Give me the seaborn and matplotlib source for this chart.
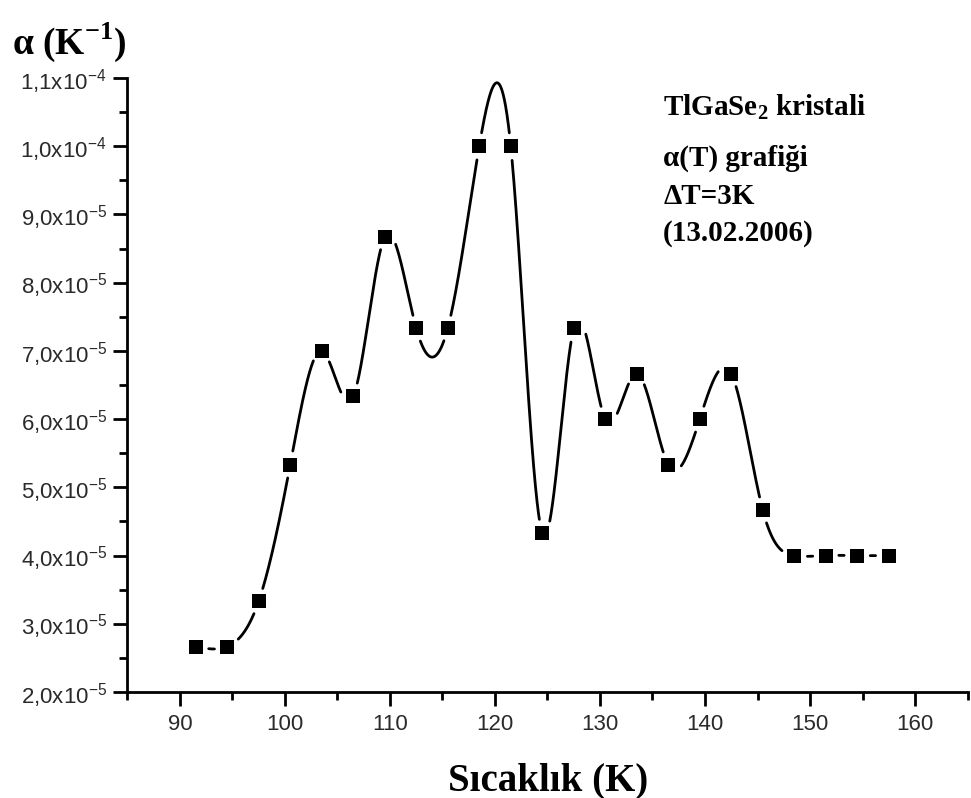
import numpy as np
import pandas as pd
import matplotlib
matplotlib.use("Agg")
import matplotlib.pyplot as plt
from matplotlib.ticker import FixedLocator, MultipleLocator
import seaborn as sns

# ---- data ----
temperature = [91.5, 94.5, 97.5, 100.5, 103.5, 106.5, 109.5, 112.5, 115.5, 118.5,
               121.5, 124.5, 127.5, 130.5, 133.5, 136.5, 139.5, 142.5, 145.5, 148.5,
               151.5, 154.5, 157.5]
alpha_e5 = [2.667, 2.667, 3.333, 5.333, 7.0, 6.333, 8.667, 7.333, 7.333, 10.0,
            10.0, 4.333, 7.333, 6.0, 6.667, 5.333, 6.0, 6.667, 4.667, 4.0,
            4.0, 4.0, 4.0]
ytick_values = [2e-5, 3e-5, 4e-5, 5e-5, 6e-5, 7e-5, 8e-5, 9e-5, 1.0e-4, 1.1e-4]
ytick_labels = ["2,0x10$^{\\mathregular{-5}}$", "3,0x10$^{\\mathregular{-5}}$",
                "4,0x10$^{\\mathregular{-5}}$", "5,0x10$^{\\mathregular{-5}}$",
                "6,0x10$^{\\mathregular{-5}}$", "7,0x10$^{\\mathregular{-5}}$",
                "8,0x10$^{\\mathregular{-5}}$", "9,0x10$^{\\mathregular{-5}}$",
                "1,0x10$^{\\mathregular{-4}}$", "1,1x10$^{\\mathregular{-4}}$"]
xtick_values = [90, 100, 110, 120, 130, 140, 150, 160]

T = np.array(temperature)
A = np.array(alpha_e5) * 1e-5


def natural_spline(x, y, xs):
    n = len(x)
    h = np.diff(x)
    M = np.zeros((n, n))
    r = np.zeros(n)
    M[0, 0] = 1
    M[-1, -1] = 1
    for i in range(1, n - 1):
        M[i, i - 1] = h[i - 1]
        M[i, i] = 2 * (h[i - 1] + h[i])
        M[i, i + 1] = h[i]
        r[i] = 6 * ((y[i + 1] - y[i]) / h[i] - (y[i] - y[i - 1]) / h[i - 1])
    m = np.linalg.solve(M, r)
    idx = np.clip(np.searchsorted(x, xs) - 1, 0, n - 2)
    x0, x1 = x[idx], x[idx + 1]
    hh = x1 - x0
    a = (x1 - xs) / hh
    b = (xs - x0) / hh
    return (a * y[idx] + b * y[idx + 1]
            + ((a ** 3 - a) * m[idx] + (b ** 3 - b) * m[idx + 1]) * hh ** 2 / 6)


sns.set_theme(style="ticks")
plt.rcParams['font.family'] = ['Liberation Sans', 'DejaVu Sans']
plt.rcParams['text.color'] = 'black'

fig = plt.figure(figsize=(9.71, 7.98), dpi=100)
ax = fig.add_axes([0.1313, 0.1328, 0.8651, 0.7695])
ax.set_xlim(85, 165)
ax.set_ylim(2e-5, 1.1e-4)

# smooth curve with gaps around symbols
xs = np.linspace(T[0], T[-1], 3000)
ys = natural_spline(T, A, xs)
fig.canvas.draw()
pts = ax.transData.transform(np.column_stack([xs, ys]))
mk = ax.transData.transform(np.column_stack([T, A]))
d = np.min(np.hypot(pts[:, None, 0] - mk[None, :, 0], pts[:, None, 1] - mk[None, :, 1]), axis=1)
ys_gap = np.where(d > 13, ys, np.nan)
ax.plot(xs, ys_gap, color="black", lw=2)

df = pd.DataFrame({"T": T, "alpha": A})
sns.scatterplot(data=df, x="T", y="alpha", marker="s", s=110, color="black",
                edgecolor="black", linewidth=0, ax=ax, zorder=3)

sns.despine(ax=ax)
for s in ["left", "bottom"]:
    ax.spines[s].set_linewidth(2)
    ax.spines[s].set_color("black")

ax.xaxis.set_major_locator(FixedLocator(xtick_values))
ax.xaxis.set_minor_locator(MultipleLocator(5))
ax.yaxis.set_major_locator(FixedLocator(ytick_values))
ax.yaxis.set_minor_locator(MultipleLocator(0.5e-5))
ax.set_xticklabels([str(v) for v in xtick_values])
ax.set_yticklabels(ytick_labels)
ax.tick_params(axis="both", which="major", direction="out", length=10, width=2,
               labelsize=16, labelcolor="#2a2a2a", color="black")
ax.tick_params(axis="both", which="minor", direction="out", length=6, width=2, color="black")
ax.tick_params(axis="x", which="major", pad=6)
ax.tick_params(axis="y", which="major", pad=5)
ax.set_xlabel("")
ax.set_ylabel("")

serif = ['Liberation Serif', 'DejaVu Serif']
fig.text(0.565, 0.010, "Sıcaklık (K)", ha="center", va="baseline", fontsize=28,
         fontweight="bold", family=serif, color="black")
fig.text(0.012, 0.947, "α (K$^{\\mathregular{-1}}$)", ha="left", va="center", fontsize=27,
         fontweight="bold", family=serif, color="black")

notes = ["TlGaSe$_{\\mathregular{2}}$ kristali", "α(T) grafiği", "ΔT=3K", "(13.02.2006)"]
note_y = [0.866, 0.802, 0.754, 0.707]
for t, yy in zip(notes, note_y):
    fig.text(0.683, yy, t, ha="left", va="center", fontsize=21,
             fontweight="bold", family=serif, color="black")

fig.savefig("out.png", dpi=100)
